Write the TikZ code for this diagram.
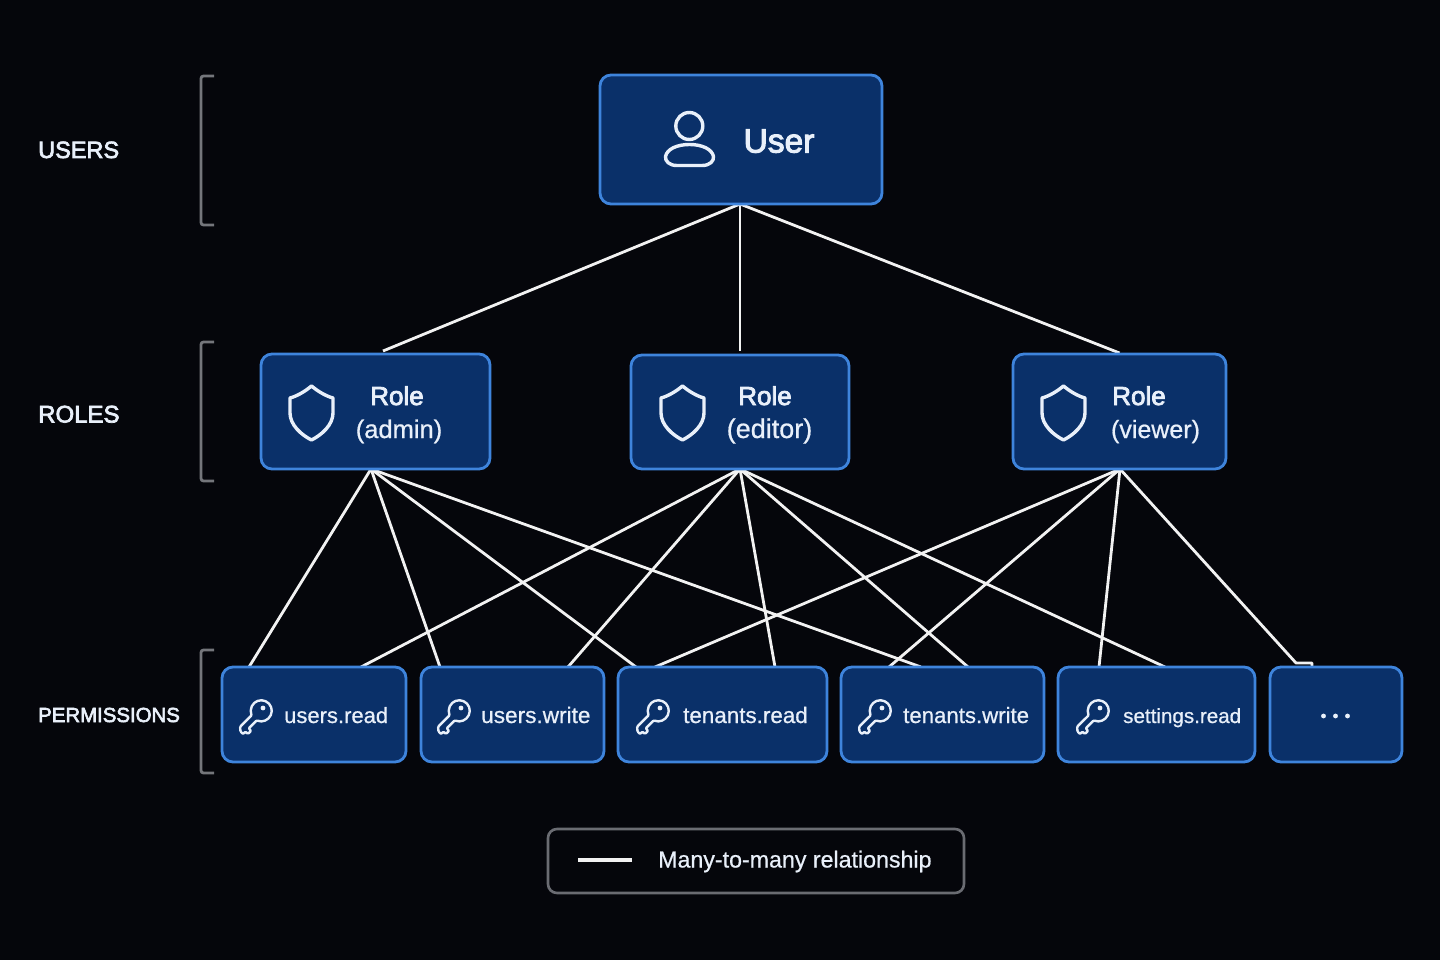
\documentclass[tikz,border=0pt]{standalone}
\usepackage{fontspec}
\setmainfont{Liberation Sans}
\newfontfamily\medf[FakeBold=3]{Liberation Sans}
\newfontfamily\regf[FakeBold=0.7]{Liberation Sans}
\newcommand{\sz}[1]{\fontsize{#1}{#1}\selectfont}
\definecolor{bgc}{HTML}{05060B}
\definecolor{boxfill}{HTML}{0A3069}
\definecolor{boxline}{HTML}{3E84DC}
\definecolor{ink}{HTML}{E9F0FA}
\definecolor{brk}{HTML}{74767B}
\definecolor{legline}{HTML}{6A6C72}
\pgfdeclarelayer{bg}
\pgfsetlayers{bg,main}
\tikzset{
  x=1pt,y=-1pt,
  card/.style={draw=boxline,fill=boxfill,line width=2.8pt,rounded corners=11pt,inner sep=0pt,outer sep=0pt},
  wire/.style={draw=white!95!black,line width=2.8pt},
  bracketline/.style={draw=brk,line width=2.8pt,rounded corners=2.5pt},
  ttl/.style={text=ink,inner sep=0pt,anchor=base,font=\medf\sz{33.5}},
  rolet/.style={text=ink,inner sep=0pt,anchor=base,font=\medf\sz{26}},
  rolesub/.style={text=ink,inner sep=0pt,anchor=base,font=\regf\sz{25.5}},
  perm/.style={text=ink,inner sep=0pt,anchor=base west,font=\regf\sz{22}},
  tier/.style={text=ink,inner sep=0pt,anchor=base west,font=\medf\sz{23.5}},
  icon/.style={draw=ink,line width=2.5pt,line join=round,line cap=round},
  keyicon/.pic={
    \draw[icon,line width=2.4pt,rounded corners=1pt,rotate=-135]
      (9.5,-3.6) arc[start angle=-20,end angle=-340,radius=10.5]
      -- (26,3.6) -- (29,0) -- (29,-3.6) -- (25.5,-3.6) -- (25.5,-7) -- (21,-7) -- (21,-3.6) -- cycle;
    \fill[ink] (2,-3) circle[radius=2.4];
  },
  shieldicon/.pic={
    \draw[icon,line width=3.4pt]
      (0,0) .. controls (6,5) and (14,10) .. (21.5,12)
      -- (21.5,27) .. controls (21.5,39) and (10,49) .. (0,54)
      .. controls (-10,49) and (-21.5,39) .. (-21.5,27)
      -- (-21.5,12) .. controls (-14,10) and (-6,5) .. cycle;
  }
}
\begin{document}
\begin{tikzpicture}
\useasboundingbox (0,0) rectangle (1440,960);
\begin{pgfonlayer}{bg}
\fill[bgc] (0,0) rectangle (1440,960);
\end{pgfonlayer}

% boxes
\node[card,minimum width=282pt,minimum height=129pt] (user) at (741,139.5) {};
\node[card,minimum width=229pt,minimum height=115pt] (admin) at (375.5,411.5) {};
\node[card,minimum width=218pt,minimum height=114pt] (editor) at (740,412) {};
\node[card,minimum width=213pt,minimum height=115pt] (viewer) at (1119.5,411.5) {};
\node[card,minimum width=184pt,minimum height=95pt] (ur) at (314,714.5) {};
\node[card,minimum width=183pt,minimum height=95pt] (uw) at (512.5,714.5) {};
\node[card,minimum width=209pt,minimum height=95pt] (tr) at (722.5,714.5) {};
\node[card,minimum width=203pt,minimum height=95pt] (tw) at (942.5,714.5) {};
\node[card,minimum width=197pt,minimum height=95pt] (sr) at (1156.5,714.5) {};
\node[card,minimum width=132pt,minimum height=95pt] (more) at (1336,714.5) {};

% connectors
\begin{pgfonlayer}{bg}
\draw[wire] ([xshift=-1pt]user.south) -- ([xshift=7.5pt,yshift=3pt]admin.north);
\draw[wire] ([xshift=-1pt]user.south) -- ([yshift=4pt]editor.north);
\draw[wire] ([xshift=-1pt]user.south) -- ([yshift=1pt]viewer.north);
\coordinate (as) at ([xshift=-4.5pt]admin.south);
\draw[wire] (as) -- ([xshift=-65pt]ur.north);
\draw[wire] (as) -- ([xshift=-72.5pt]uw.north);
\draw[wire] (as) -- ([xshift=-86.5pt]tr.north);
\draw[wire] (as) -- ([xshift=-21.5pt]tw.north);
\draw[wire] (editor.south) -- ([xshift=47pt]ur.north);
\draw[wire] (editor.south) -- ([xshift=55.5pt]uw.north);
\draw[wire] (editor.south) -- ([xshift=52.5pt]tr.north);
\draw[wire] (editor.south) -- ([xshift=25.5pt]tw.north);
\draw[wire] (editor.south) -- ([xshift=8.5pt]sr.north);
\coordinate (vs) at ([xshift=.5pt]viewer.south);
\draw[wire] (vs) -- ([xshift=-67.5pt]tr.north);
\draw[wire] (vs) -- ([xshift=-53.5pt]tw.north);
\draw[wire] (vs) -- ([xshift=-57.5pt]sr.north);
\draw[wire,line join=round] (vs) -- ([xshift=-40pt,yshift=4pt]more.north) -- ([xshift=-24pt,yshift=4pt]more.north) -- ([xshift=-24pt]more.north);
\end{pgfonlayer}

% tier brackets
\draw[bracketline] (214,76) -- (201,76) -- (201,225) -- (214,225);
\draw[bracketline] (214,342) -- (201,342) -- (201,481) -- (214,481);
\draw[bracketline] (214,650) -- (201,650) -- (201,773) -- (214,773);
\node[tier] (tusers) at (38,158) {USERS};
\node[tier,font=\medf\sz{24}] (troles) at (38,422.5) {ROLES};
\node[tier,font=\medf\sz{20.4}] (tperms) at (38,722) {PERMISSIONS};

% user
\draw[icon,line width=3.4pt] (689.3,126) circle[radius=13.5];
\draw[icon,line width=3.4pt] (677,165.5) -- (702,165.5) .. controls (710,165.5) and (714,161) .. (713.5,156.5)
  .. controls (712,149) and (702,144.5) .. (689.5,144.5)
  .. controls (677,144.5) and (667,149) .. (665.5,156.5)
  .. controls (665,161) and (669,165.5) .. cycle;
\node[ttl] (tuser) at (779,152.5) {User};

% roles
\pic at (311.5,386) {shieldicon};
\pic at (682.5,386) {shieldicon};
\pic at (1063.5,386) {shieldicon};
\node[rolet] (r1a) at (397,405) {Role};
\node[rolesub] (r1b) at (399,438) {(admin)};
\node[rolet] (r2a) at (765,405) {Role};
\node[rolesub,font=\regf\sz{27}] (r2b) at (769.5,438) {(editor)};
\node[rolet] (r3a) at (1139,405) {Role};
\node[rolesub,font=\regf\sz{25}] (r3b) at (1155.5,438) {(viewer)};

% permissions
\pic at (261,711) {keyicon};
\pic at (459,711) {keyicon};
\pic at (658,711) {keyicon};
\pic at (880,711) {keyicon};
\pic at (1098,711) {keyicon};
\node[perm] (p1) at (284,723) {users.read};
\node[perm,font=\regf\sz{22.6}] (p2) at (481,723) {users.write};
\node[perm,font=\regf\sz{22.4}] (p3) at (683,723) {tenants.read};
\node[perm,font=\regf\sz{22.2}] (p4) at (903,723) {tenants.write};
\node[perm,font=\regf\sz{20.6}] (p5) at (1123,723) {settings.read};
\fill[ink] (1323.5,716) circle[radius=2.4] (1335.5,716) circle[radius=2.4] (1347.5,716) circle[radius=2.4];

% legend
\node[draw=legline,line width=2.6pt,rounded corners=9pt,minimum width=416pt,minimum height=64pt,outer sep=0pt,inner sep=0pt] (legend) at (756,861) {};
\coordinate (l1) at (578,860);
\coordinate (l2) at (632,860);
\draw[wire,line width=3.2pt] (l1) -- (l2);
\node[perm,font=\regf\sz{23.2}] (ltxt) at (658,867.5) {Many-to-many relationship};
\end{tikzpicture}
\end{document}
